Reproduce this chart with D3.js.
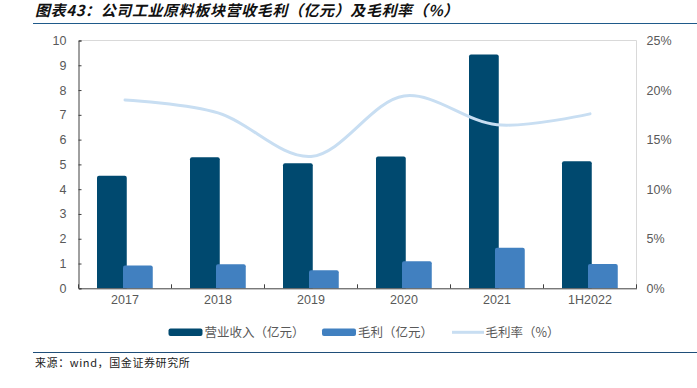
<!DOCTYPE html>
<html><head><meta charset="utf-8">
<script src="https://cdn.jsdelivr.net/npm/d3@7"></script>
<style>body{margin:0;background:#fff}svg{display:block}</style>
</head><body><svg id="c" width="697" height="388"></svg>
<script>
const categories = ["2017","2018","2019","2020","2021","1H2022"];
const revenue = [4.54, 5.29, 5.05, 5.32, 9.43, 5.13];
const grossProfit = [0.92, 0.97, 0.73, 1.09, 1.64, 0.98];
const grossMargin = [19.0, 17.7, 13.3, 19.4, 16.5, 17.6];
const leftTicks = [0,1,2,3,4,5,6,7,8,9,10];
const rightTicks = [0,5,10,15,20,25];
const legendLabels = ["营业收入（亿元）","毛利（亿元）","毛利率（%）"];
const titleText = "图表43：公司工业原料板块营收毛利（亿元）及毛利率（%）";
const sourceText = "来源：wind，国金证券研究所";

const svg = d3.select("#c");
const L = 78.5, R = 636.5, T = 40.5, B = 288.3;
const x = d3.scaleBand().domain(categories).range([L, R]);
const y = d3.scaleLinear().domain([0,10]).range([B, T]);
const y2 = d3.scaleLinear().domain([0,25]).range([B, T]);
const cDark = "#00496f", cLight = "#4180c0", cLine = "#c8def2";
const latin = "'Liberation Sans', Arial, sans-serif";
const cjk = "'Noto Sans CJK SC', sans-serif";

// title
svg.append("text").attr("x", 35).attr("y", 16).attr("font-family", cjk)
  .attr("font-size", 15).attr("font-weight", "bold").attr("font-style", "italic")
  .attr("letter-spacing", 0.6).attr("fill", "#111").text(titleText);
svg.append("line").attr("x1", 33).attr("x2", 697).attr("y1", 23.5).attr("y2", 23.5)
  .attr("stroke", "#1f5a8a").attr("stroke-width", 1.2);

// plot frame (top & right light gray)
svg.append("path").attr("d", `M${L},${T}H${R}V${B}`).attr("fill","none")
  .attr("stroke","#d9d9d9").attr("stroke-width",1);

// bars
const bw = x.bandwidth()*0.32;
const cx = d => x(d) + x.bandwidth()/2;
function topRounded(x0, y0, w, h, r){
  r = Math.min(r, h);
  return `M${x0},${y0+h}V${y0+r}Q${x0},${y0} ${x0+r},${y0}H${x0+w-r}Q${x0+w},${y0} ${x0+w},${y0+r}V${y0+h}Z`;
}
svg.append("g").selectAll("path").data(categories).join("path")
  .attr("d", (d,i) => topRounded(cx(d)-28, y(revenue[i]), bw, B - y(revenue[i]), 2))
  .attr("fill", cDark);
svg.append("g").selectAll("path").data(categories).join("path")
  .attr("d", (d,i) => topRounded(cx(d)-2, y(grossProfit[i]), bw, B - y(grossProfit[i]), 2))
  .attr("fill", cLight);

// line
const line = d3.line().x((d,i)=>cx(categories[i])).y(d=>y2(d)).curve(d3.curveCatmullRom.alpha(0.5));
svg.append("path").datum(grossMargin).attr("d", line).attr("fill","none")
  .attr("stroke", cLine).attr("stroke-width", 3).attr("stroke-linecap","round");

// left axis
const ga = svg.append("g").attr("transform", `translate(${L},0)`)
  .call(d3.axisLeft(y).tickValues(leftTicks).tickSize(-3).tickPadding(12).tickFormat(d3.format("d")));
ga.select(".domain").attr("stroke","#404040");
ga.selectAll(".tick line").attr("stroke","#404040");
ga.selectAll("text").attr("font-family", latin).attr("font-size", 12.5).attr("fill","#595959");

// right axis
const gr = svg.append("g").attr("transform", `translate(${R},0)`)
  .call(d3.axisRight(y2).tickValues(rightTicks).tickSize(0).tickPadding(10).tickFormat(d=>d+"%"));
gr.select(".domain").remove();
gr.selectAll("text").attr("font-family", latin).attr("font-size", 12.5).attr("fill","#595959");

// bottom axis
const gb = svg.append("g").attr("transform", `translate(0,${B})`)
  .call(d3.axisBottom(x).tickSize(0).tickPadding(7));
gb.select(".domain").attr("stroke","#404040");
gb.selectAll("text").attr("font-family", latin).attr("font-size", 12.5).attr("fill","#595959");
svg.append("g").selectAll("line").data(d3.range(categories.length+1)).join("line")
  .attr("x1", i => L + i*x.step()).attr("x2", i => L + i*x.step())
  .attr("y1", B).attr("y2", B-4).attr("stroke","#404040");

// legend
const lg = svg.append("g");
const items = [
  {x:168.5, type:"rect", color:cDark},
  {x:322, type:"rect", color:cLight},
  {x:452, type:"line", color:cLine}
];
items.forEach((it,i)=>{
  if (it.type==="rect") lg.append("rect").attr("x", it.x).attr("y", 328.5).attr("width", 34).attr("height", 7.5).attr("rx",2).attr("fill", it.color);
  else lg.append("line").attr("x1", it.x).attr("x2", it.x+32).attr("y1", 332.3).attr("y2", 332.3).attr("stroke", it.color).attr("stroke-width", 3);
  lg.append("text").attr("x", it.x + (it.type==="rect"?36:33.5)).attr("y", 336.5)
    .attr("font-family", cjk).attr("font-size", 12.5).attr("fill","#595959").text(legendLabels[i]);
});

// source
svg.append("line").attr("x1", 33).attr("x2", 697).attr("y1", 352.5).attr("y2", 352.5)
  .attr("stroke", "#1f4e79").attr("stroke-width", 1);
svg.append("text").attr("x", 35).attr("y", 367).attr("font-family", cjk)
  .attr("font-size", 11).attr("letter-spacing", 0.6).attr("fill","#222").text(sourceText);
</script></body></html>
